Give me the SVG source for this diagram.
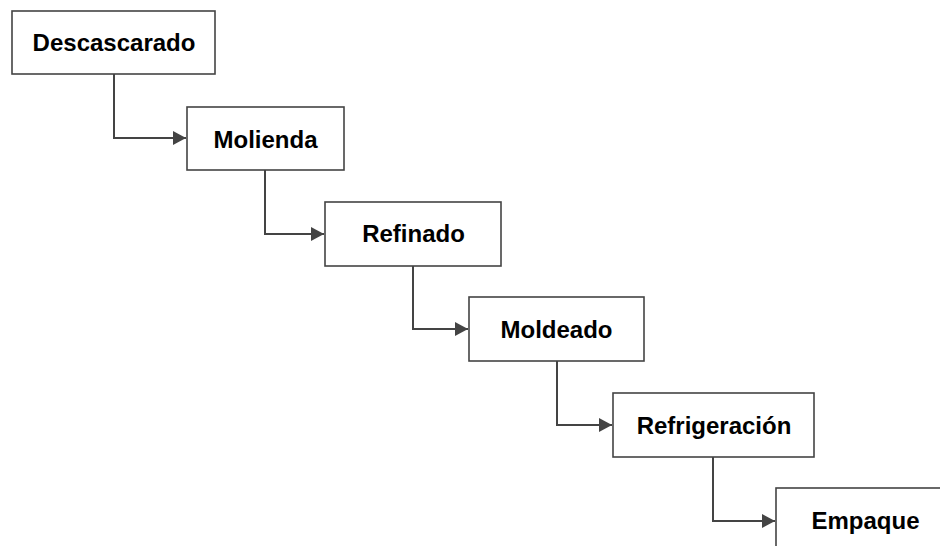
<svg xmlns="http://www.w3.org/2000/svg" width="940" height="546" viewBox="0 0 940 546">
<style>
.box{fill:#fff;stroke:#444;stroke-width:1.6}
.lbl{font-family:"Liberation Sans",Arial,sans-serif;font-weight:bold;font-size:24px;fill:#000;text-anchor:middle}
.conn{fill:none;stroke:#444;stroke-width:2}
</style>
<defs>
<marker id="arr" markerUnits="userSpaceOnUse" markerWidth="14" markerHeight="14" refX="13" refY="7" orient="auto">
<path d="M0,0 L13,7 L0,14 Z" fill="#444"/>
</marker>
</defs>
<rect width="940" height="546" fill="#fff"/>
<g id="connectors">
<path class="conn" d="M114,74 V138 H186" marker-end="url(#arr)"/>
<path class="conn" d="M265,170 V234 H324" marker-end="url(#arr)"/>
<path class="conn" d="M413,266 V329 H468" marker-end="url(#arr)"/>
<path class="conn" d="M557,361 V425 H612" marker-end="url(#arr)"/>
<path class="conn" d="M713,457 V521 H775" marker-end="url(#arr)"/>
</g>
<g id="n1"><rect class="box" x="12" y="11" width="203" height="63"/><text class="lbl" x="114" y="51">Descascarado</text></g>
<g id="n2"><rect class="box" x="187" y="107" width="157" height="63"/><text class="lbl" x="265.5" y="147.5">Molienda</text></g>
<g id="n3"><rect class="box" x="325" y="202" width="176" height="64"/><text class="lbl" x="413.5" y="242">Refinado</text></g>
<g id="n4"><rect class="box" x="469" y="297" width="175" height="64"/><text class="lbl" x="556.5" y="337.5">Moldeado</text></g>
<g id="n5"><rect class="box" x="613" y="393" width="201" height="64"/><text class="lbl" x="714" y="433.5">Refrigeración</text></g>
<g id="n6"><rect class="box" x="776" y="488" width="178" height="64"/><text class="lbl" x="865.5" y="529">Empaque</text></g>
</svg>
